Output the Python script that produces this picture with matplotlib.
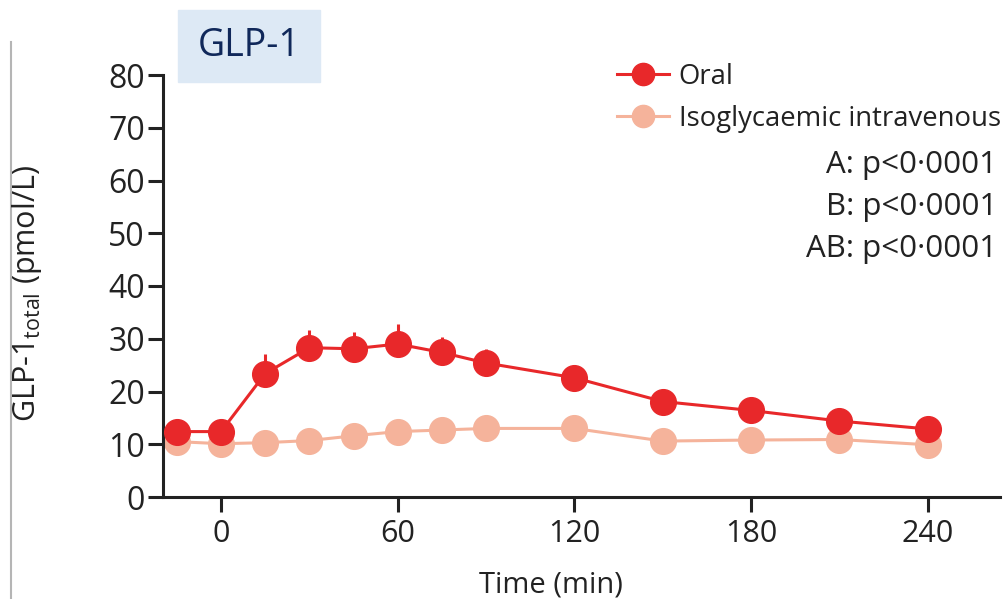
import matplotlib
matplotlib.use('Agg')
import matplotlib.pyplot as plt
from matplotlib.lines import Line2D

# data
time = [-15, 0, 15, 30, 45, 60, 75, 90, 120, 150, 180, 210, 240]
oral = [12.4, 12.4, 23.4, 28.3, 28.1, 29.0, 27.4, 25.4, 22.6, 18.1, 16.4, 14.4, 12.9]
oral_err = [0, 0, 3.8, 3.4, 3.1, 3.8, 2.9, 2.6, 0, 0, 0, 0, 0]
iv = [10.5, 10.1, 10.3, 10.7, 11.6, 12.4, 12.7, 13.0, 13.0, 10.6, 10.8, 10.9, 9.9]
xticks = [0, 60, 120, 180, 240]
yticks = [0, 10, 20, 30, 40, 50, 60, 70, 80]
pvals = ['A: p<0·0001', 'B: p<0·0001', 'AB: p<0·0001']

RED = '#e8282a'
PINK = '#f5b39b'
INK = '#222222'
main = 'Open Sans'

fig = plt.figure(figsize=(10.04, 5.99), dpi=100)
ax = fig.add_axes([163/1004, 1-497/599, (1000-163)/1004, (497-75)/599])

ax.errorbar(time, oral, yerr=[[0]*len(oral_err), oral_err], color=RED, lw=2.2,
            marker='o', ms=18.5, capsize=0, elinewidth=2.2, zorder=3)
ax.plot(time, iv, color=PINK, lw=2.2, marker='o', ms=18.5, zorder=2)

ax.set_xlim(-19.7, 264.5)
ax.set_ylim(0, 80)
ax.set_xticks(xticks)
ax.set_yticks(yticks)
for s in ['top', 'right']:
    ax.spines[s].set_visible(False)
for s in ['left', 'bottom']:
    ax.spines[s].set_linewidth(2.2)
    ax.spines[s].set_color(INK)
ax.tick_params(axis='both', width=2.2, length=11, color=INK, labelcolor=INK)
ax.tick_params(axis='x', pad=5)
ax.tick_params(axis='y', pad=2)
for lab in ax.get_yticklabels():
    lab.set_fontfamily(main)
    lab.set_fontsize(23)
for lab in ax.get_xticklabels():
    lab.set_fontfamily(main)
    lab.set_fontsize(22)

fig.text(551/1004, 1-585/599, 'Time (min)', ha='center', va='center',
         fontfamily=main, fontsize=21, color=INK)
fig.text(27/1004, 1-294/599, r'GLP-1$_{\mathregular{total}}$ (pmol/L)', rotation=90,
         ha='center', va='center', fontsize=22, fontfamily=main, color=INK)

handles = [Line2D([], [], color=RED, lw=2.2, marker='o', ms=16),
           Line2D([], [], color=PINK, lw=2.2, marker='o', ms=16)]
leg = ax.legend(handles, ['Oral', 'Isoglycaemic intravenous'], loc='upper left',
                bbox_to_anchor=(606/1004, 1-52/599), bbox_transform=fig.transFigure,
                frameon=False, prop={'family': main, 'size': 19.8}, handlelength=1.9,
                handletextpad=0.35, labelspacing=0.5, borderaxespad=0)
for t in leg.get_texts():
    t.set_color(INK)

for i, p in enumerate(pvals):
    fig.text(997/1004, 1-(165+42*i)/599, p, ha='right', va='center',
             fontfamily=main, fontsize=22.5, color=INK)

# title box
fig.patches.append(plt.Rectangle((178/1004, 1-82/599), 142/1004, 72/599,
                                 transform=fig.transFigure, color='#dde9f5', zorder=0))
fig.text(249/1004, 1-46/599, 'GLP-1', ha='center', va='center', fontfamily=main,
         fontsize=27, color='#10285a')

# grey slide rule on the left
fig.add_artist(Line2D([11/1004, 11/1004], [0, 1-42/599], color='#b5b5b5', lw=1.5))

fig.savefig('out.png', dpi=100)
